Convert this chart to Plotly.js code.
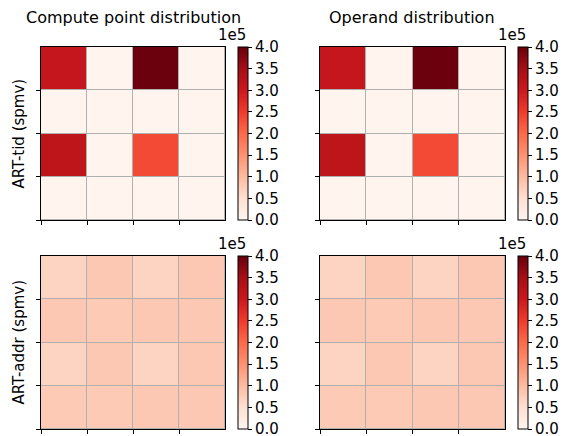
<!DOCTYPE html>
<html>
<head>
<meta charset="utf-8">
<script src="https://cdn.plot.ly/plotly-3.0.1.min.js"></script>
<style>html,body{margin:0;padding:0;background:#fff;}#chart{width:565px;height:436px;}</style>
</head>
<body>
<div id="chart"></div>
<script>
// Cell positions (column / row centres) and tick labels
const cols = [0.5, 1.5, 2.5, 3.5];
const rows = [0.5, 1.5, 2.5, 3.5];
const colTicks = [0, 1, 2, 3];
const rowTicks = [1, 2, 3, 4];
const cbTickVals = [0, 50000, 100000, 150000, 200000, 250000, 300000, 350000, 400000];
const cbTickText = ["0.0", "0.5", "1.0", "1.5", "2.0", "2.5", "3.0", "3.5", "4.0"];
const columnTitles = ["Compute point distribution", "Operand distribution"];
const rowTitles = ["ART-tid (spmv)", "ART-addr (spmv)"];

// Values (row-major, top row first)
const tidCompute = [
  [309000, 3000, 397000, 3000],
  [3000, 3000, 3000, 3000],
  [317000, 3000, 234000, 3000],
  [3000, 3000, 3000, 3000]
];
const tidOperand = [
  [309000, 3000, 397000, 3000],
  [3000, 3000, 3000, 3000],
  [317000, 3000, 234000, 3000],
  [3000, 3000, 3000, 3000]
];
const addrCompute = [
  [66000, 82000, 66000, 82000],
  [82000, 80000, 82000, 82000],
  [66000, 82000, 66000, 82000],
  [80000, 80000, 82000, 82000]
];
const addrOperand = [
  [66000, 82000, 66000, 82000],
  [82000, 80000, 82000, 82000],
  [66000, 82000, 66000, 82000],
  [80000, 80000, 82000, 82000]
];

const reds = [
  [0, '#fff5f0'], [0.125, '#fee0d2'], [0.25, '#fcbba1'], [0.375, '#fc9272'],
  [0.5, '#fb6a4a'], [0.625, '#ef3b2c'], [0.75, '#cb181d'], [0.875, '#a50f15'], [1, '#67000d']
];

const W = 565, H = 436;
const xDom = [[41 / W, 225 / W], [320 / W, 505 / W]];
const yDom = [[(H - 220) / H, (H - 47) / H], [(H - 429) / H, (H - 256) / H]];
const cbX = [238 / W, 518 / W];
const font = 'DejaVu Sans, sans-serif';

const panels = [
  {z: tidCompute, c: 0, r: 0},
  {z: tidOperand, c: 1, r: 0},
  {z: addrCompute, c: 0, r: 1},
  {z: addrOperand, c: 1, r: 1}
];

const data = [];
const layout = {
  width: W, height: H,
  margin: {l: 0, r: 0, t: 0, b: 0},
  paper_bgcolor: '#ffffff',
  plot_bgcolor: '#b0b0b0',
  showlegend: false,
  font: {family: font, size: 15, color: '#000'},
  annotations: []
};

panels.forEach((p, i) => {
  const n = i + 1;
  const xa = 'x' + (n === 1 ? '' : n);
  const ya = 'y' + (n === 1 ? '' : n);
  const yMid = (yDom[p.r][0] + yDom[p.r][1]) / 2;
  data.push({
    type: 'heatmap', z: p.z, x: cols, y: rows,
    xaxis: xa, yaxis: ya,
    colorscale: reds, zmin: 0, zmax: 400000, zsmooth: false,
    xgap: 1, ygap: 1, hoverinfo: 'skip',
    colorbar: {
      x: cbX[p.c], xanchor: 'left', xref: 'paper',
      y: yMid, yanchor: 'middle', len: (yDom[p.r][1] - yDom[p.r][0]), lenmode: 'fraction',
      thickness: 10, thicknessmode: 'pixels', xpad: 0, ypad: 0,
      outlinewidth: 1, outlinecolor: '#000',
      ticks: 'outside', ticklen: 4, tickwidth: 1, tickcolor: '#000',
      ticklabeloverflow: 'allow',
      tickmode: 'array', tickvals: cbTickVals, ticktext: cbTickText,
      tickfont: {family: font, size: 15, color: '#000'}
    }
  });
  const axBase = {showline: true, mirror: true, linecolor: '#000', linewidth: 1,
    ticks: 'outside', ticklen: 4, tickwidth: 1, tickcolor: '#000',
    showticklabels: false, showgrid: false, zeroline: false, fixedrange: true};
  layout['xaxis' + (n === 1 ? '' : n)] = Object.assign({}, axBase, {
    domain: xDom[p.c], range: [0, 4], tickmode: 'array', tickvals: colTicks, anchor: ya});
  layout['yaxis' + (n === 1 ? '' : n)] = Object.assign({}, axBase, {
    domain: yDom[p.r], range: [4, 0], tickmode: 'array', tickvals: rowTicks, anchor: xa});
  // exponent label above colorbar
  layout.annotations.push({
    text: '1e5', xref: 'paper', yref: 'paper',
    x: cbX[p.c] + 10 / W, xanchor: 'right',
    y: yDom[p.r][1] + 1 / H, yanchor: 'bottom', showarrow: false,
    font: {family: font, size: 15, color: '#000'}
  });
});

columnTitles.forEach((t, c) => {
  layout.annotations.push({
    text: t, xref: 'paper', yref: 'paper',
    x: (xDom[c][0] + xDom[c][1]) / 2, xanchor: 'center',
    y: (H - 18) / H, yanchor: 'middle', showarrow: false,
    font: {family: font, size: 16, color: '#000'}
  });
});
rowTitles.forEach((t, r) => {
  layout.annotations.push({
    text: t, xref: 'paper', yref: 'paper', textangle: -90,
    x: 18 / W, xanchor: 'center',
    y: (yDom[r][0] + yDom[r][1]) / 2, yanchor: 'middle', showarrow: false,
    font: {family: font, size: 15, color: '#000'}
  });
});

Plotly.newPlot('chart', data, layout, {staticPlot: true, displayModeBar: false});
</script>
</body>
</html>
